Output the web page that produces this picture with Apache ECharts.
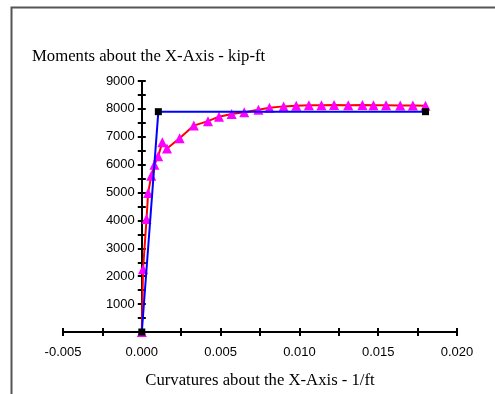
<!DOCTYPE html>
<html>
<head>
<meta charset="utf-8">
<script src="https://cdn.jsdelivr.net/npm/echarts@6/dist/echarts.min.js"></script>
<style>
html, body { margin: 0; padding: 0; background: #fff; }
#chart { width: 495px; height: 394px; }
</style>
</head>
<body>
<div id="chart"></div>
<script>
// moment-curvature curve (curvature 1/ft, moment kip-ft)
var curveData = [
    [0, 0], [0.00008, 2250], [0.0003, 4050], [0.0004, 4980], [0.0006, 5600],
    [0.0008, 6000], [0.00104, 6300], [0.0013, 6800], [0.0016, 6580], [0.0024, 6950],
    [0.0033, 7400], [0.0042, 7560], [0.0049, 7720], [0.0057, 7820], [0.0065, 7880],
    [0.0074, 7970], [0.0081, 8040], [0.009, 8090], [0.0098, 8110], [0.0106, 8130],
    [0.0114, 8130], [0.0122, 8140], [0.0131, 8130], [0.014, 8140], [0.0147, 8130],
    [0.0155, 8130], [0.0164, 8120], [0.0172, 8120], [0.018, 8110]
];
// idealized bilinear
var idealData = [[0, 0], [0.00105, 7900], [0.018, 7900]];

var xMin = -0.005, xMax = 0.02, xStep = 0.0025;
var yMin = 0, yMax = 9000, yStep = 500;

var titleText = 'Moments about the X-Axis - kip-ft';
var xName = 'Curvatures about the X-Axis - 1/ft';

var chart = echarts.init(document.getElementById('chart'));

function xLabel(v) {
    return Math.round(v / xStep) % 2 === 0 ? v.toFixed(3) : '';
}
function yLabel(v) {
    return (v > 0 && v % 1000 === 0) ? String(v) : '';
}

var lineStyle = { color: '#000', width: 2 };
var labelFont = { color: '#000', fontFamily: 'Liberation Sans', fontSize: 13 };

function makeX(inside) {
    return {
        type: 'value', position: 'bottom', offset: 0,
        min: xMin, max: xMax, interval: xStep,
        axisLine: { show: true, onZero: false, lineStyle: lineStyle },
        axisTick: { show: true, inside: inside, length: 4, lineStyle: lineStyle },
        axisLabel: inside ? { show: false } : Object.assign({ margin: 14, formatter: xLabel }, labelFont),
        splitLine: { show: false },
        name: inside ? '' : xName,
        nameLocation: 'middle', nameGap: 40,
        nameTextStyle: { color: '#000', fontFamily: 'Liberation Serif', fontSize: 16.7 }
    };
}
function makeY(inside) {
    return {
        type: 'value', position: 'left', offset: 0,
        min: yMin, max: yMax, interval: yStep,
        axisLine: { show: true, onZero: false, lineStyle: lineStyle },
        axisTick: { show: true, inside: inside, length: 4, lineStyle: lineStyle },
        axisLabel: inside ? { show: false } : Object.assign({ margin: 7, formatter: yLabel }, labelFont),
        splitLine: { show: false }
    };
}

chart.setOption({
    animation: false,
    backgroundColor: '#fff',
    title: {
        text: titleText, left: 32, top: 48, padding: 0,
        textStyle: { color: '#000', fontFamily: 'Liberation Serif', fontSize: 16.7, fontWeight: 'normal' }
    },
    graphic: [{
        type: 'rect', left: 9, top: 5, silent: true, z: -1,
        shape: { width: 520, height: 420 },
        style: { fill: 'none', stroke: '#555', lineWidth: 2 }
    }],
    grid: { left: 63, right: 38, top: 81, bottom: 61, containLabel: false },
    xAxis: [makeX(false), makeX(true)],
    yAxis: [makeY(false), makeY(true)],
    series: [
        {
            name: 'curve', type: 'line', data: curveData,
            xAxisIndex: 0, yAxisIndex: 0,
            symbol: 'triangle', symbolSize: 10,
            itemStyle: { color: '#ff00ff' },
            lineStyle: { color: '#ff0000', width: 2 },
            z: 2
        },
        {
            name: 'ideal', type: 'line', data: idealData,
            xAxisIndex: 0, yAxisIndex: 0,
            symbol: 'rect', symbolSize: 7,
            itemStyle: { color: '#000' },
            lineStyle: { color: '#0000ff', width: 2 },
            z: 3
        }
    ]
});

// move the y axis onto x = 0 (labels follow the axis line)
var zeroPx = chart.convertToPixel({ xAxisIndex: 0 }, 0);
var leftPx = chart.convertToPixel({ xAxisIndex: 0 }, xMin);
var shift = -(zeroPx - leftPx);
chart.setOption({ yAxis: [{ offset: shift }, { offset: shift }] });
</script>
</body>
</html>
